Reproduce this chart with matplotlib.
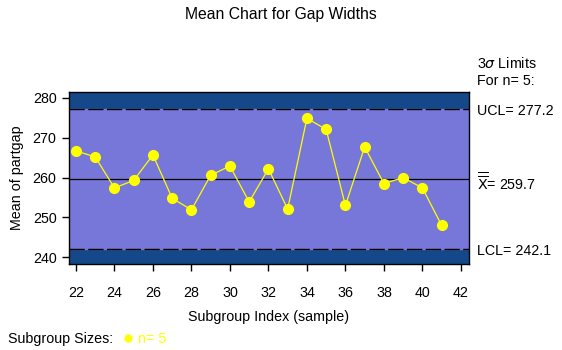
import matplotlib
matplotlib.use("Agg")
import matplotlib.pyplot as plt

# subgroup means
SUBGROUPS = list(range(22, 42))
MEANS = [266.7, 265.2, 257.4, 259.3, 265.7, 254.8, 251.9, 260.6, 262.9, 253.9,
         262.2, 252.1, 274.9, 272.1, 253.0, 267.7, 258.5, 260.0, 257.4, 248.0]
UCL, CENTER, LCL = 277.2, 259.7, 242.1
XTICKS = list(range(22, 43, 2))
YTICKS = [240, 250, 260, 270, 280]

DARK = "#154889"
LIGHT = "#7777d9"
YELLOW = "#ffff00"
FS = 10.3

plt.rcParams["font.family"] = ["Liberation Sans", "DejaVu Sans"]

fig = plt.figure(figsize=(5.62, 3.5), dpi=100)
ax = fig.add_axes([0.1228, 0.2457, 0.7117, 0.4914])
ax.set_xlim(21.64, 42.42)
ax.set_ylim(238.3, 281.5)

ax.set_facecolor(DARK)
ax.axhspan(LCL, UCL, color=LIGHT, zorder=0)
for lim in (UCL, LCL):
    ax.axhline(lim, color="black", linewidth=1, dashes=(11, 2.5), zorder=1)
ax.axhline(CENTER, color="black", linewidth=0.9, zorder=1)

ax.plot(SUBGROUPS, MEANS, color=YELLOW, linewidth=0.9, marker="o",
        markersize=7, markerfacecolor=YELLOW, markeredgecolor=YELLOW, zorder=3)

ax.set_xticks(XTICKS)
ax.set_yticks(YTICKS)
ax.tick_params(axis="x", length=5, width=1, pad=11, labelsize=FS)
ax.tick_params(axis="y", length=5, width=1, pad=4, labelsize=FS)
for s in ax.spines.values():
    s.set_linewidth(1)

ax.set_xlabel("Subgroup Index (sample)", fontsize=FS, labelpad=7)
ax.set_ylabel("Mean of partgap", fontsize=FS, labelpad=6)

fig.text(0.5, 0.96, "Mean Chart for Gap Widths", ha="center", va="center", fontsize=11.3)

tx = 477 / 562
fig.text(tx, 1 - 64 / 350, r"3$\mathit{\sigma}$ Limits", va="center", fontsize=FS)
fig.text(tx, 1 - 81 / 350, "For n= 5:", va="center", fontsize=FS)
fig.text(tx, 1 - 111 / 350, f"UCL= {UCL}", va="center", fontsize=FS)
fig.text(tx, 1 - 182 / 350, r"$\overline{\overline{\mathsf{X}}}$" + f"= {CENTER}",
         va="center", fontsize=FS)
fig.text(tx, 1 - 251 / 350, f"LCL= {LCL}", va="center", fontsize=FS)

fig.text(8 / 562, 1 - 339 / 350, "Subgroup Sizes:", va="center", fontsize=FS)
fig.lines.append(plt.Line2D([128 / 562], [1 - 338 / 350], transform=fig.transFigure,
                            marker="o", markersize=5, color=YELLOW, linestyle="none"))
fig.text(138 / 562, 1 - 339 / 350, "n= 5", va="center", fontsize=FS, color=YELLOW)

fig.savefig("out.png", dpi=100)
